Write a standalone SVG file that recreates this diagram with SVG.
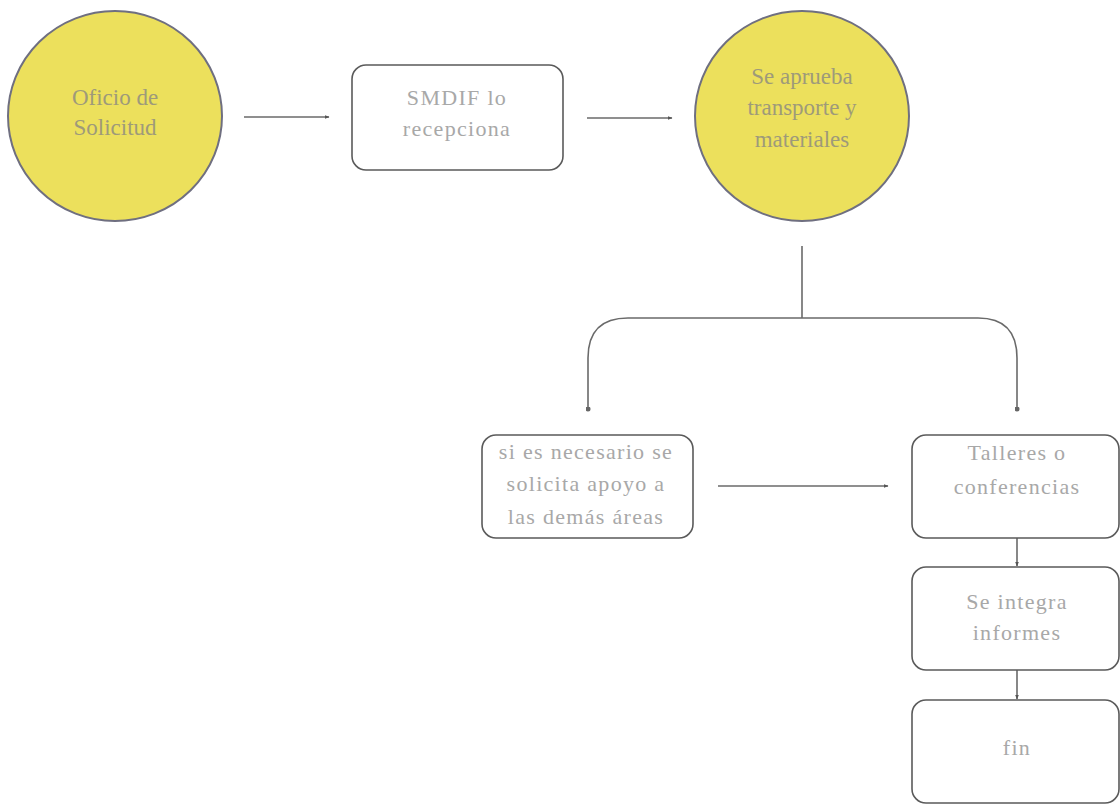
<svg xmlns="http://www.w3.org/2000/svg" width="1120" height="804" viewBox="0 0 1120 804">
<style>
.circ{fill:#ece05c;stroke:#6f6f80;stroke-width:2}
.box{fill:#ffffff;stroke:#5a5a5a;stroke-width:1.6}
.ct{font-family:'Liberation Serif','DejaVu Serif','Times New Roman',serif;font-size:23px;fill:#9e9a7a;text-anchor:middle}
.bt{font-family:'Liberation Serif','DejaVu Serif','Times New Roman',serif;font-size:22px;fill:#a8a8a8;text-anchor:middle;letter-spacing:1.3px}
.conn{fill:none;stroke:#6a6a6a;stroke-width:1.6}
</style>
<defs>
<marker id="ah" viewBox="0 0 10 10" refX="9" refY="5" markerWidth="5" markerHeight="5" orient="auto" markerUnits="userSpaceOnUse">
<path d="M0,1 L10,5 L0,9 z" fill="#555"/>
</marker>
<marker id="dot" viewBox="0 0 10 10" refX="5" refY="5" markerWidth="5" markerHeight="5" markerUnits="userSpaceOnUse">
<circle cx="5" cy="5" r="5" fill="#666"/>
</marker>
</defs>
<rect width="1120" height="804" fill="#ffffff"/>
<g id="connectors">
<line class="conn" x1="244" y1="117" x2="329" y2="117" marker-end="url(#ah)"/>
<line class="conn" x1="587" y1="118" x2="672" y2="118" marker-end="url(#ah)"/>
<path class="conn" d="M802,246 V318"/>
<path class="conn" d="M588,409 V358 Q588,318 628,318 H978 Q1017,318 1017,358 V409" marker-start="url(#dot)" marker-end="url(#dot)"/>
<line class="conn" x1="718" y1="486" x2="888" y2="486" marker-end="url(#ah)"/>
<line class="conn" x1="1017" y1="538" x2="1017" y2="566" marker-end="url(#ah)"/>
<line class="conn" x1="1017" y1="670" x2="1017" y2="699" marker-end="url(#ah)"/>
</g>
<g id="n1">
<ellipse class="circ" cx="115" cy="116" rx="107" ry="105"/>
<text class="ct" x="115" y="105">Oficio de</text>
<text class="ct" x="115" y="135">Solicitud</text>
</g>
<g id="n2">
<rect class="box" x="352" y="65" width="211" height="105" rx="14"/>
<text class="bt" x="457" y="105">SMDIF lo</text>
<text class="bt" x="457" y="136">recepciona</text>
</g>
<g id="n3">
<ellipse class="circ" cx="802" cy="116" rx="107" ry="105"/>
<text class="ct" x="802" y="84">Se aprueba</text>
<text class="ct" x="802" y="115">transporte y</text>
<text class="ct" x="802" y="147">materiales</text>
</g>
<g id="n4">
<rect class="box" x="482" y="435" width="211" height="103" rx="14"/>
<text class="bt" x="586" y="459">si es necesario se</text>
<text class="bt" x="586" y="491">solicita apoyo a</text>
<text class="bt" x="586" y="524">las demás áreas</text>
</g>
<g id="n5">
<rect class="box" x="912" y="435" width="207" height="103" rx="14"/>
<text class="bt" x="1017" y="460">Talleres o</text>
<text class="bt" x="1017" y="494">conferencias</text>
</g>
<g id="n6">
<rect class="box" x="912" y="567" width="207" height="103" rx="14"/>
<text class="bt" x="1017" y="609">Se integra</text>
<text class="bt" x="1017" y="640">informes</text>
</g>
<g id="n7">
<rect class="box" x="912" y="700" width="207" height="103" rx="14"/>
<text class="bt" x="1017" y="755">fin</text>
</g>
</svg>
